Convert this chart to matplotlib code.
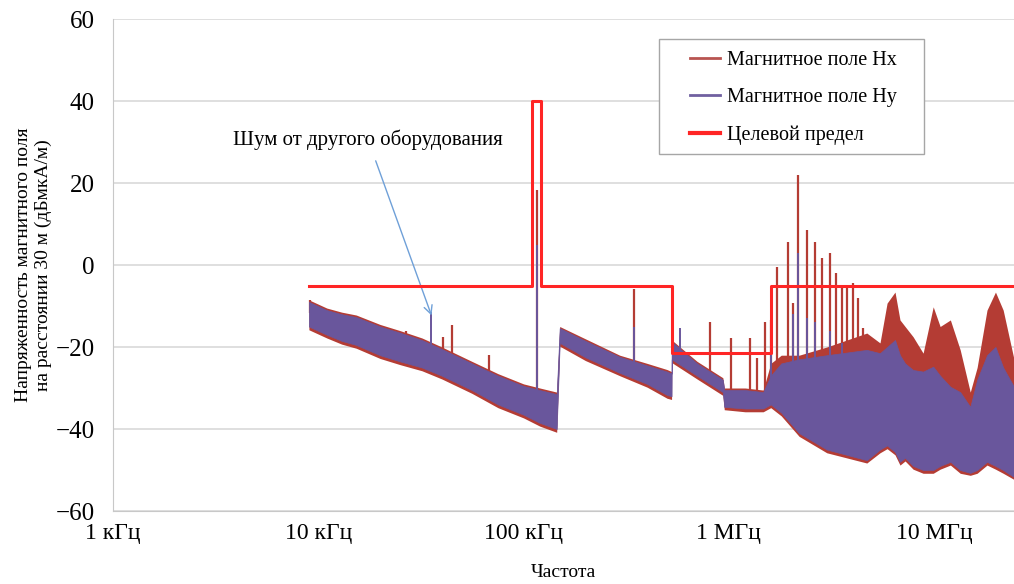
import numpy as np
import matplotlib.pyplot as plt
from matplotlib.patches import Rectangle

plt.rcParams['font.family'] = ['Liberation Serif', 'DejaVu Serif']
plt.rcParams['axes.unicode_minus'] = True

# --- data (frequency in kHz, level in dBuA/m) ---

# noise floor band of Hy (upper / lower edge)
hy_f = [9, 11, 13, 15.3, 20, 25, 32, 40, 56, 75, 100, 120, 145,
        150, 200, 294, 400, 500, 526,
        527, 700, 935, 950, 1200, 1470, 1600, 1800, 2200, 3000, 4700,
        5450, 5900, 6450, 6820, 7220, 7900, 8840, 9900, 10700, 12000,
        13400, 15000, 16200, 18100, 19900, 21700, 24500]
hy_top = [-9, -11, -12, -12.7, -15, -16.5, -18.3, -20.5, -24, -27, -29.5, -30.5, -31.5,
          -15.4, -18.5, -22.4, -24.5, -26, -26.5,
          -18.7, -24, -28, -30.5, -30.5, -31, -27, -24, -23, -22, -20.7,
          -21.5, -20, -18.3, -22, -24, -25.6, -26, -24.8, -27, -29.7,
          -31, -34.6, -28, -22, -20, -25, -29.7]
hy_bot = [-15, -17, -18.5, -19.5, -22, -23.5, -25, -27, -30.5, -34, -36.5, -38.5, -40,
          -19, -22.5, -26.3, -29, -31.7, -32,
          -23, -27, -31, -34.6, -35, -35, -34, -36, -41, -45, -47.6,
          -45, -44, -45.6, -48, -47, -49, -50, -50, -49, -48,
          -50, -50.7, -50, -48, -49, -50, -51.7]

# noise floor band of Hx
hx_f = hy_f
hx_top = [-8.5, -10.5, -11.5, -12.2, -14.5, -16, -17.8, -20, -23.5, -26.5, -29, -30, -31,
          -15, -18, -22, -24, -25.5, -26,
          -18.3, -23.5, -27.5, -30, -30, -30.5, -24, -22, -22, -20, -16.6,
          -19, -9.3, -6.6, -13.4, -15, -17.5, -21.5, -10.2, -15, -13.4,
          -20.7, -31, -25, -11, -6.6, -11, -23]
hx_bot = [-15.8, -17.8, -19.3, -20.3, -22.8, -24.3, -25.8, -27.8, -31.3, -34.8, -37.3, -39.3, -40.8,
          -19.8, -23.3, -27, -29.8, -32.5, -32.8,
          -23.8, -27.8, -31.8, -35.3, -35.8, -35.8, -34.8, -36.8, -41.8, -45.8, -48.3,
          -45.8, -44.8, -46.3, -48.8, -47.8, -49.8, -50.8, -50.8, -49.8, -48.8,
          -50.8, -51.3, -50.8, -48.8, -49.8, -50.8, -52.3]

# narrow peaks
hx_spk_f = [9.1, 12.6, 15.9, 21.5, 26.9, 40.7, 44.6, 67.5, 116, 344, 808, 1030, 1270, 1370, 1500,
            1600, 1720, 1940, 2050, 2170, 2400, 2630, 2840, 3110, 3330, 3560,
            3770, 4030, 4260, 4510, 5970]
hx_spk_v = [-8.5, -11.7, -13, -15.4, -16, -17.5, -14.6, -22, 18.3, -5.9, -14, -17.8, -17.8, -22.7, -14,
            -13.4, -0.5, 5.6, -9.3, 22, 8.5, 5.6, 1.7, 2.9, -2, -5.4,
            -5.6, -4.4, -8, -15.4, -12]
hy_spk_f = [35.6, 116, 344, 577, 1600, 2050, 2170, 2400, 2630, 3110, 3560]
hy_spk_v = [-11.5, 4.9, -15, -15.4, -16, -12, 3, -13, -14, -16, -19]

# target limit (step line)
lim_f = [9, 110, 121, 526.5, 1606.5, 30000]
lim_v = [-5, 40, -5, -21.5, -5, -5]

xticks = [1e3, 1e4, 1e5, 1e6, 1e7]
xticklabels = ['1 кГц', '10 кГц', '100 кГц', '1 МГц', '10 МГц']
yticks = [-60, -40, -20, 0, 20, 40, 60]

c_hx = '#b43c34'
c_hy = '#69569c'
c_lim = '#ff2525'

fig = plt.figure(figsize=(10.14, 5.84), dpi=100)
ax = fig.add_axes([113/1014, 73/584, 901/1014, 492/584])


def khz(a):
    return np.array(a) * 1e3


def base(f, band_f, band_top):
    # foot of a peak: a little under the band top at that frequency
    return np.interp(np.log10(f), np.log10(band_f), band_top) - 3


# Hx band and peaks
ax.fill_between(khz(hx_f), hx_bot, hx_top, color=c_hx, lw=0, zorder=2)
ax.vlines(khz(hx_spk_f), base(hx_spk_f, hx_f, hx_top), hx_spk_v,
          color=c_hx, lw=1.6, zorder=2)
# Hy band and peaks
ax.fill_between(khz(hy_f), hy_bot, hy_top, color=c_hy, lw=0.5, zorder=3)
ax.vlines(khz(hy_spk_f), base(hy_spk_f, hy_f, hy_top), hy_spk_v,
          color=c_hy, lw=1.4, zorder=3)
# limit
ax.plot(khz(lim_f), lim_v, drawstyle='steps-post', color=c_lim, lw=2.2, zorder=4)

ax.set_xscale('log')
ax.set_xlim(1e3, 2.45e7)
ax.set_ylim(-60, 60)
ax.set_xticks(xticks)
ax.set_xticklabels(xticklabels)
ax.minorticks_off()
ax.set_yticks(yticks)
ax.set_yticklabels([str(v).replace('-', '\u2212') for v in yticks])
ax.tick_params(axis='x', length=0, pad=9, labelsize=17)
ax.tick_params(axis='y', length=0, pad=13, labelsize=18)
ax.grid(axis='y', color='#d9d9d9', lw=1.2)
ax.set_axisbelow(True)
for s in ['top', 'right']:
    ax.spines[s].set_visible(False)
ax.spines['left'].set_color('#c8c8c8')
ax.spines['bottom'].set_color('#c8c8c8')

ax.set_ylabel('Напряженность магнитного поля\nна расстоянии 30 м (дБмкА/м)',
              fontsize=14, linespacing=1.15)
ax.yaxis.set_label_coords(-0.068, 0.5)
ax.set_xlabel('Частота', fontsize=14)
ax.xaxis.set_label_coords(0.5, -0.108)

ax.annotate('Шум от другого оборудования', xy=(35.6e3, -12.3), xytext=(17.5e3, 30.5),
            fontsize=15, ha='center', va='center',
            arrowprops=dict(arrowstyle='->', color='#6fa0d8', lw=1.0,
                            shrinkA=6, shrinkB=0))

# legend frame drawn separately so the inner padding can match
ax.add_patch(Rectangle((0.606, 0.726), 0.294, 0.233, transform=ax.transAxes,
                       facecolor='white', edgecolor='#a6a6a6', lw=1.0, zorder=5))
h1, = ax.plot([], [], color='#b85450', lw=2, label='Магнитное поле Hx')
h2, = ax.plot([], [], color='#7060a0', lw=2, label='Магнитное поле Hy')
h3, = ax.plot([], [], color=c_lim, lw=3, label='Целевой предел')
leg = ax.legend(handles=[h1, h2, h3], loc='upper left', bbox_to_anchor=(0.64, 0.935),
                borderaxespad=0, fontsize=14.5, frameon=False, borderpad=0,
                handlelength=1.5, labelspacing=0.9, handletextpad=0.35)
leg.set_zorder(6)

fig.savefig('out.png', dpi=100)
